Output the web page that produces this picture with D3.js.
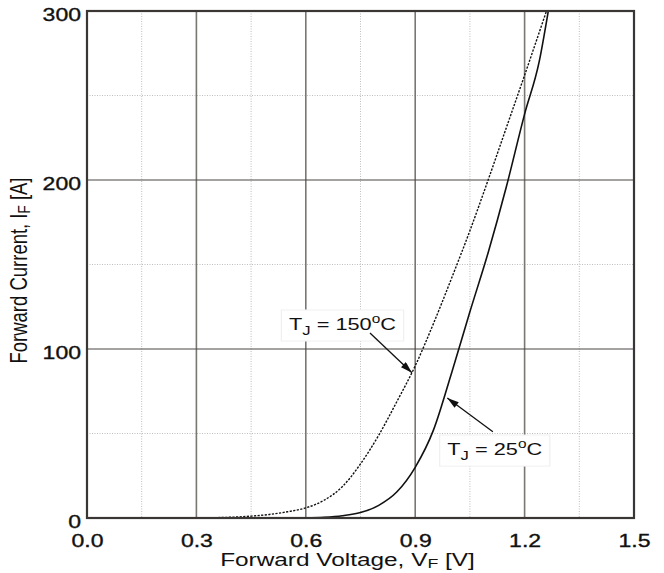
<!DOCTYPE html>
<html><head><meta charset="utf-8">
<script src="https://cdn.jsdelivr.net/npm/d3@7"></script>
<style>body{margin:0;background:#fff}svg{display:block;font-family:"Liberation Sans",Arial,sans-serif}</style>
</head><body><svg id="c" width="664" height="573"></svg>
<script>
// Data
const xTicks = [0.0, 0.3, 0.6, 0.9, 1.2, 1.5];
const xMinor = [0.15, 0.45, 0.75, 1.05, 1.35];
const yTicks = [0, 100, 200, 300];
const yMinor = [50, 150, 250];
const v150 = [0.30,0.35,0.40,0.45,0.50,0.55,0.60,0.65,0.70,0.75,0.80,0.85,0.90,0.95,1.00,1.05,1.10,1.15,1.20,1.26];
const i150 = [0,0.2,0.5,1.1,2.1,3.7,6,10.5,18.5,32,49,69,90,115,142,170,200,231,262,300];
const v25 = [0.60,0.65,0.70,0.75,0.80,0.85,0.90,0.95,1.00,1.05,1.10,1.15,1.20,1.24,1.265];
const i25 = [0,0.4,1.3,3.2,7.5,15.5,30,52,86,122,157,196,239,270,300];
const labels = [{text:"150",tx:0.554,ty:111,ax:0.776,ay:109.5,hx:0.891,hy:86},
                {text:"25", tx:0.988,ty:37,ax:1.113,ay:51,hx:0.988,hy:71}];

const W=664,H=573, L=87,R=634,T=11,B=518, SX=1.28;
const svg=d3.select("#c");
const x=d3.scaleLinear().domain([0,1.5]).range([L,R]);
const y=d3.scaleLinear().domain([0,300]).range([B,T]);

// minor dotted grid
svg.append("g").selectAll("line").data(xMinor).join("line")
  .attr("x1",d=>x(d)).attr("x2",d=>x(d)).attr("y1",T).attr("y2",B)
  .attr("stroke","#bdbdbd").attr("stroke-width",1).attr("stroke-dasharray","1,1.5");
svg.append("g").selectAll("line").data(yMinor).join("line")
  .attr("y1",d=>y(d)).attr("y2",d=>y(d)).attr("x1",L).attr("x2",R)
  .attr("stroke","#bdbdbd").attr("stroke-width",1).attr("stroke-dasharray","1,1.5");
// major grid
svg.append("g").selectAll("line").data(xTicks.slice(1,-1)).join("line")
  .attr("x1",d=>x(d)).attr("x2",d=>x(d)).attr("y1",T).attr("y2",B)
  .attr("stroke","#7a7672").attr("stroke-width",1.6);
svg.append("g").selectAll("line").data(yTicks.slice(1,-1)).join("line")
  .attr("y1",d=>y(d)).attr("y2",d=>y(d)).attr("x1",L).attr("x2",R)
  .attr("stroke","#4a4642").attr("stroke-width",1);

// curves
const line=d3.line().x(d=>x(d[0])).y(d=>y(d[1])).curve(d3.curveMonotoneX);
svg.append("path").datum(v150.map((v,i)=>[v,i150[i]])).attr("d",line)
  .attr("fill","none").attr("stroke","#111").attr("stroke-width",1.4).attr("stroke-dasharray","2.2,1.4");
svg.append("path").datum(v25.map((v,i)=>[v,i25[i]])).attr("d",line)
  .attr("fill","none").attr("stroke","#111").attr("stroke-width",1.6);

// frame
svg.append("rect").attr("x",L).attr("y",T).attr("width",R-L).attr("height",B-T)
  .attr("fill","none").attr("stroke","#3a3633").attr("stroke-width",2.2);

// axes (labels only)
const gx=svg.append("g").attr("transform",`translate(0,${B})`)
  .call(d3.axisBottom(x).tickValues(xTicks).tickFormat(d3.format(".1f")).tickSize(0).tickPadding(0));
gx.select(".domain").remove();
gx.selectAll("text").attr("y",29).attr("dy",0).attr("font-size",18).attr("fill","#111")
  .attr("stroke","#111").attr("stroke-width",0.35)
  .attr("font-family","Liberation Sans, Arial, sans-serif").attr("transform",`scale(${SX},1)`);
const gy=svg.append("g").attr("transform",`translate(${L},0)`)
  .call(d3.axisLeft(y).tickValues(yTicks).tickFormat(d3.format("d")).tickSize(0).tickPadding(0));
gy.select(".domain").remove();
gy.selectAll("text").attr("x",-6/SX).attr("dy",0).attr("y",9.5).attr("font-size",18).attr("fill","#111")
  .attr("stroke","#111").attr("stroke-width",0.35)
  .attr("font-family","Liberation Sans, Arial, sans-serif").attr("transform",`scale(${SX},1)`);

// axis titles
const xt=svg.append("text").attr("transform",`translate(347.5,566) scale(${SX*1.03},1)`)
  .attr("text-anchor","middle").attr("font-size",18.5).attr("fill","#111");
xt.append("tspan").text("Forward Voltage, V");
xt.append("tspan").text("F").attr("font-size",13.5).attr("dy",2);
xt.append("tspan").text(" [V]").attr("dy",-2);
const yt=svg.append("text").attr("transform",`translate(27,${(T+B)/2+6}) scale(${SX},1) rotate(-90)`)
  .attr("text-anchor","middle").attr("font-size",18.5).attr("fill","#111");
yt.append("tspan").text("Forward Current, I");
yt.append("tspan").text("F").attr("font-size",13.5).attr("dy",2);
yt.append("tspan").text(" [A]").attr("dy",-2);

// annotations
const defs=svg.append("defs");
defs.append("marker").attr("id","ah").attr("viewBox","0 0 10 6").attr("refX",10).attr("refY",3)
  .attr("markerWidth",13).attr("markerHeight",7).attr("markerUnits","userSpaceOnUse").attr("orient","auto")
  .append("path").attr("d","M0,0L10,3L0,6Z").attr("fill","#111");
labels.forEach(a=>{
  const g=svg.append("g").attr("transform",`translate(${x(a.tx)},${y(a.ty)}) scale(${SX},1)`);
  const t=g.append("text").attr("font-size",17).attr("fill","#111");
  t.append("tspan").text("T");
  t.append("tspan").text("J").attr("font-size",13).attr("dy",5);
  t.append("tspan").text(" = "+a.text).attr("dy",-5);
  t.append("tspan").text("o").attr("font-size",12).attr("dy",-7);
  t.append("tspan").text("C").attr("dy",7);
  const bb=t.node().getBBox();
  g.insert("rect","text").attr("x",bb.x-6).attr("y",bb.y-3).attr("width",bb.width+12).attr("height",bb.height+6)
    .attr("fill","#fff").attr("stroke","#f0f0f0").attr("stroke-width",1);
  svg.append("line").attr("x1",x(a.ax)).attr("y1",y(a.ay)).attr("x2",x(a.hx)).attr("y2",y(a.hy))
    .attr("stroke","#111").attr("stroke-width",1.3).attr("marker-end","url(#ah)");
});
</script></body></html>
